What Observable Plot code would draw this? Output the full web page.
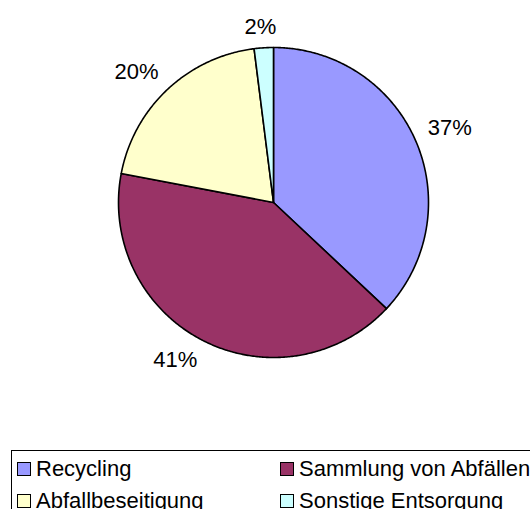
<!DOCTYPE html>
<html>
<head>
<meta charset="utf-8">
<script src="https://cdn.jsdelivr.net/npm/d3@7"></script>
<script src="https://cdn.jsdelivr.net/npm/@observablehq/plot@0.6"></script>
<style>
  html, body { margin: 0; padding: 0; background: #fff; overflow: hidden; width: 530px; height: 509px; }
  #chart svg { display: block; }
  .legend {
    position: relative;
    margin-left: 11px;
    width: 600px;
    height: 80px;
    border: 1px solid #000;
    box-sizing: border-box;
    font-family: "Liberation Sans", Arial, sans-serif;
    font-size: 22px;
    color: #000;
  }
  .item { position: absolute; display: flex; align-items: center; height: 32px; white-space: nowrap; }
  .sw { width: 12px; height: 12px; border: 1.5px solid #000; margin-right: 5px; }
</style>
</head>
<body>
<div id="chart"></div>
<div class="legend" id="legend"></div>
<script>
const categories = ["Recycling", "Sammlung von Abfällen", "Abfallbeseitigung", "Sonstige Entsorgung"];
const values = [37, 41, 20, 2];
const labels = ["37%", "41%", "20%", "2%"];
const colors = ["#9999FF", "#993366", "#FFFFCC", "#CCFFFF"];

const W = 530, H = 450;
const cx = 273, cy = 202, r = 155;
const fontSize = 22;

const total = d3.sum(values);
const pts = [];
const labelData = [];
let acc = 0;
const clamp = v => Math.max(-1, Math.min(1, v));
categories.forEach((c, i) => {
  const a0 = acc / total * 2 * Math.PI;
  acc += values[i];
  const a1 = acc / total * 2 * Math.PI;
  pts.push({cat: c, x: cx, y: cy});
  const n = Math.max(4, Math.ceil((a1 - a0) / (Math.PI / 360)));
  for (let k = 0; k <= n; k++) {
    const a = a0 + (a1 - a0) * k / n;
    pts.push({cat: c, x: cx + r * Math.sin(a), y: cy - r * Math.cos(a)});
  }
  pts.push({cat: c, x: cx, y: cy});
  // label box: nearest corner on the mid-angle ray, just outside the pie
  const am = (a0 + a1) / 2;
  const s = Math.sin(am), co = Math.cos(am);
  const w = ((labels[i].length - 1) * 0.556 + 0.889) * fontSize;
  const h = 0.72 * fontSize;
  const d = r + 13;
  labelData.push({
    text: labels[i],
    x: cx + d * s + clamp(s * 2.5) * w / 2,
    y: cy - d * co - clamp(co * 2.5) * h / 2
  });
});

const chart = Plot.plot({
  width: W,
  height: H,
  margin: 0,
  x: {domain: [0, W], range: [0, W], axis: null},
  y: {domain: [0, H], range: [0, H], axis: null},
  color: {domain: categories, range: colors},
  style: {background: "#fff", fontFamily: "'Liberation Sans', Arial, sans-serif"},
  marks: [
    Plot.line(pts, {x: "x", y: "y", z: "cat", fill: "cat", stroke: "#000", strokeWidth: 1.6, strokeLinejoin: "round"}),
    Plot.text(labelData, {x: "x", y: "y", text: "text", fontSize: fontSize, fill: "#000", fontFamily: "'Liberation Sans', Arial, sans-serif"})
  ]
});
document.getElementById("chart").appendChild(chart);

const legend = document.getElementById("legend");
const pos = [[5, 2], [268, 2], [5, 34], [268, 34]];
categories.forEach((c, i) => {
  const it = document.createElement("div");
  it.className = "item";
  it.style.left = pos[i][0] + "px";
  it.style.top = pos[i][1] + "px";
  const sw = document.createElement("div");
  sw.className = "sw";
  sw.style.background = colors[i];
  const t = document.createElement("span");
  t.textContent = c;
  it.appendChild(sw);
  it.appendChild(t);
  legend.appendChild(it);
});
</script>
</body>
</html>
